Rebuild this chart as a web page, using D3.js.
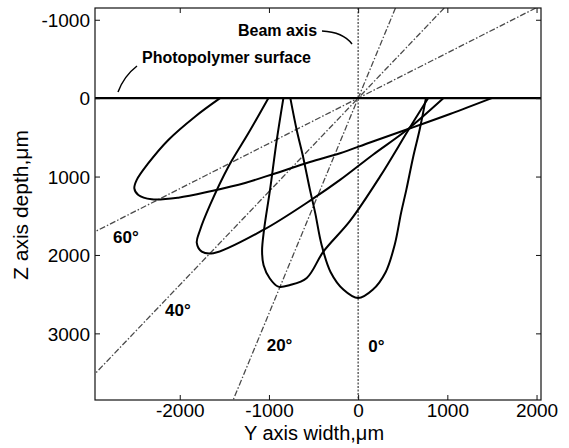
<!DOCTYPE html>
<html>
<head>
<meta charset="utf-8">
<script src="https://cdn.jsdelivr.net/npm/d3@7"></script>
<style>
  html, body { margin: 0; padding: 0; background: #fff; }
  svg { display: block; }
</style>
</head>
<body>
<svg id="chart" width="569" height="448"></svg>
<script>
// ---------- data ----------
const xTicks = [-2000, -1000, 0, 1000, 2000];
const yTicks = [-1000, 0, 1000, 2000, 3000];
const beamAngles = [0, 20, 40, 60];               // degrees from vertical
const angleLabels = ["0°", "20°", "40°", "60°"];
// traced exposure-region curves, [Y width µm, Z depth µm]
const curve0 = [[-760,0],[-690,400],[-617,750],[-540,1170],[-482,1460],[-410,1870],[-308,2220],[-163,2445],[0,2550],[163,2445],[308,2220],[410,1870],[482,1460],[540,1170],[617,750],[690,400],[760,0]];
const curve20 = [[-838,0],[-912,533],[-988,1171],[-1055,1681],[-1077,1950],[-1060,2130],[-990,2300],[-895,2404],[-763,2383],[-576,2293],[-390,1958],[-91,1566],[245,1001],[563,406],[784,0]];
const curve40 = [[-1007,0],[-1231,448],[-1455,874],[-1660,1362],[-1772,1681],[-1809,1847],[-1753,1958],[-1623,1978],[-1063,1681],[-502,1279],[-203,1043],[170,718],[545,406],[955,0]];
const curve60 = [[-1548,0],[-1829,236],[-2128,533],[-2352,830],[-2482,1043],[-2509,1150],[-2464,1235],[-2314,1290],[-2016,1269],[-1641,1184],[-1268,1082],[-932,960],[-540,814],[-203,703],[133,565],[545,400],[1030,202],[1498,0]];
const curves = [curve0, curve20, curve40, curve60];
const xDomain = [-2950, 2050];
const yDomain = [-1150, 3850];
const surfaceDepth = 0;

// ---------- layout ----------
const L = 95, R = 541, T = 8, B = 400;
const svg = d3.select("#chart");
const x = d3.scaleLinear().domain(xDomain).range([L, R]);
const y = d3.scaleLinear().domain(yDomain).range([T, B]);

svg.append("defs").append("clipPath").attr("id", "clip")
  .append("rect").attr("x", L).attr("y", T).attr("width", R - L).attr("height", B - T);

const plot = svg.append("g").attr("clip-path", "url(#clip)");

// beam axes through origin
beamAngles.forEach(a => {
  const t = Math.tan(a * Math.PI / 180);
  const z1 = yDomain[0], z2 = yDomain[1];
  plot.append("line")
    .attr("x1", x(-z1 * t)).attr("y1", y(z1))
    .attr("x2", x(-z2 * t)).attr("y2", y(z2))
    .attr("stroke", "#4a4a4a").attr("stroke-width", 1.3)
    .attr("stroke-dasharray", a === 0 ? "2,1.5" : "6,2,1.5,2");
});

// curves
const line = d3.line().x(d => x(d[0])).y(d => y(d[1])).curve(d3.curveCatmullRom.alpha(0.5));
curves.forEach(c => {
  plot.append("path").attr("d", line(c))
    .attr("fill", "none").attr("stroke", "#000").attr("stroke-width", 2);
});

// surface
plot.append("line")
  .attr("x1", L).attr("x2", R).attr("y1", y(surfaceDepth)).attr("y2", y(surfaceDepth))
  .attr("stroke", "#000").attr("stroke-width", 2.2);

// frame
svg.append("rect").attr("x", L).attr("y", T).attr("width", R - L).attr("height", B - T)
  .attr("fill", "none").attr("stroke", "#111").attr("stroke-width", 1.2);

// axes with inward ticks
const tickLen = 5;
const font = "'Liberation Sans', Arial, sans-serif";
const gx = svg.append("g").attr("transform", `translate(0,${B})`)
  .call(d3.axisBottom(x).tickValues(xTicks).tickSizeInner(-tickLen).tickSizeOuter(0).tickPadding(4).tickFormat(d => String(d)));
const gxTop = svg.append("g").attr("transform", `translate(0,${T})`)
  .call(d3.axisTop(x).tickValues(xTicks).tickSizeInner(-tickLen).tickSizeOuter(0).tickFormat(""));
const gy = svg.append("g").attr("transform", `translate(${L},0)`)
  .call(d3.axisLeft(y).tickValues(yTicks).tickSizeInner(-tickLen).tickSizeOuter(0).tickPadding(5).tickFormat(d => String(d)));
const gyR = svg.append("g").attr("transform", `translate(${R},0)`)
  .call(d3.axisRight(y).tickValues(yTicks).tickSizeInner(-tickLen).tickSizeOuter(0).tickFormat(""));
[gx, gxTop, gy, gyR].forEach(g => {
  g.select(".domain").remove();
  g.selectAll(".tick line").attr("stroke", "#111").attr("stroke-width", 1);
  g.selectAll("text").attr("font-family", font).attr("font-size", 19).attr("fill", "#000");
});
gx.selectAll("text").attr("dy", "0.71em");
gy.selectAll("text").attr("dy", "0.35em");

// axis titles
svg.append("text").attr("x", 314).attr("y", 440).attr("text-anchor", "middle")
  .attr("font-family", font).attr("font-size", 20).text("Y axis width,μm");
svg.append("text").attr("transform", "translate(28,205) rotate(-90)").attr("text-anchor", "middle")
  .attr("font-family", font).attr("font-size", 21).text("Z axis depth,μm");

// annotations
const bold = (sel) => sel.attr("font-family", font).attr("font-weight", "bold").attr("font-size", 16).attr("fill", "#000");
svg.append("text").attr("x", 238).attr("y", 36).call(bold).text("Beam axis");
svg.append("text").attr("x", 142).attr("y", 63).call(bold).text("Photopolymer surface");
svg.append("path").attr("d", "M322,31 Q343,32 352,44").attr("fill", "none").attr("stroke", "#000").attr("stroke-width", 1.5);
svg.append("path").attr("d", "M137,66 Q124,76 118,92").attr("fill", "none").attr("stroke", "#000").attr("stroke-width", 1.5);

const labelPos = [[114, 3237], [-1025, 3225], [-2165, 2778], [-2748, 1847]];
angleLabels.forEach((t, i) => {
  svg.append("text").attr("x", x(labelPos[i][0])).attr("y", y(labelPos[i][1]))
    .call(bold).attr("font-size", 17).text(t);
});
</script>
</body>
</html>
